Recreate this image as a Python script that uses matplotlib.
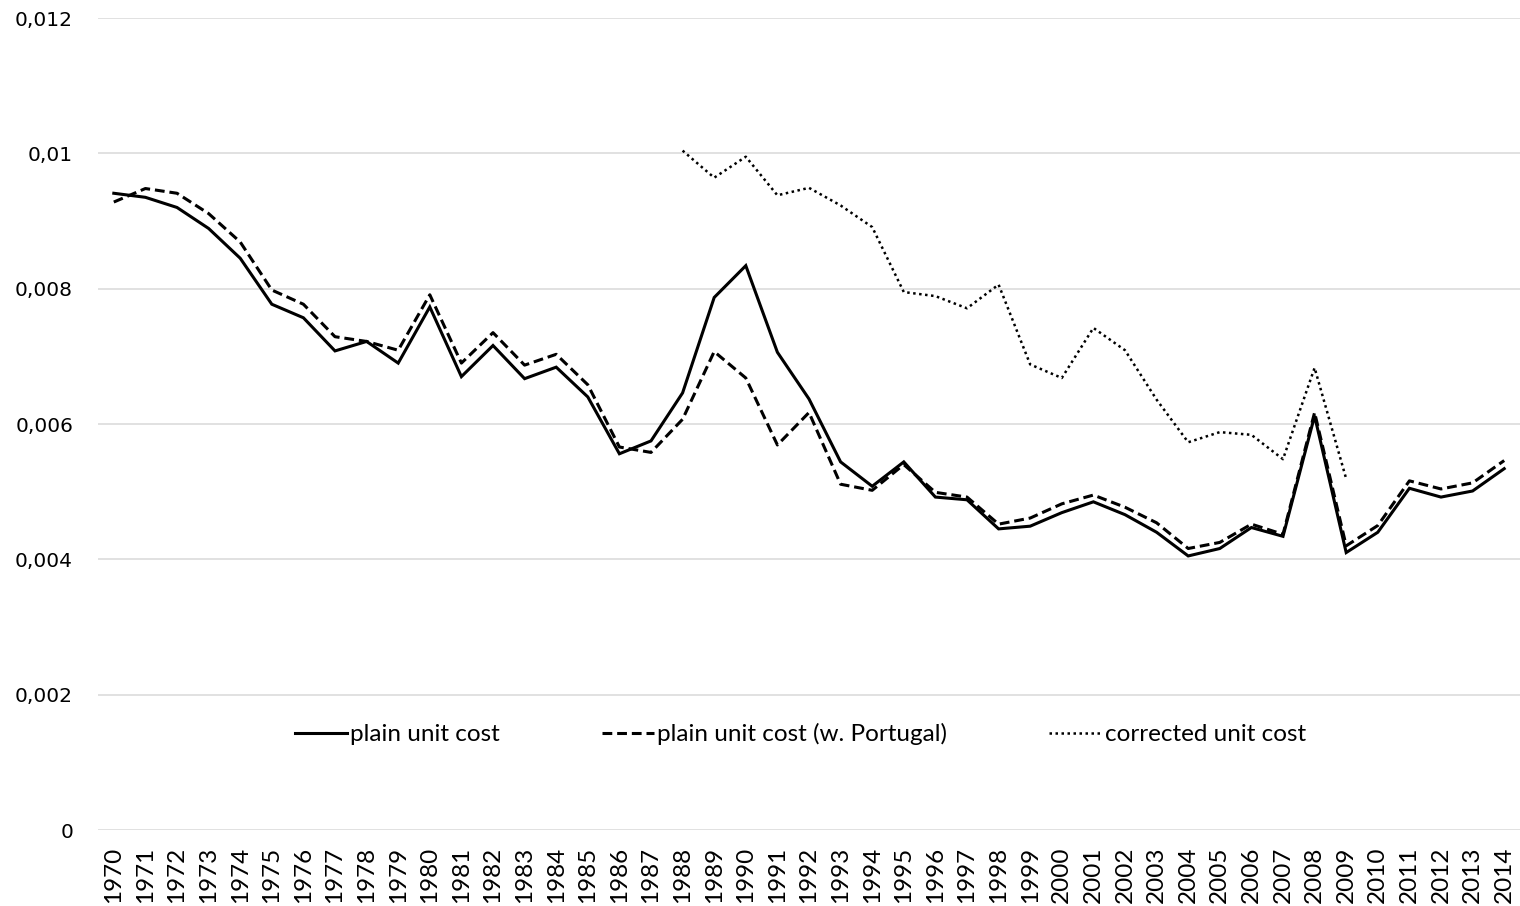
import matplotlib
matplotlib.use("Agg")
import matplotlib.pyplot as plt
from matplotlib.ticker import FuncFormatter

# years on the category axis
years = list(range(1970, 2015))

# plain unit cost (solid)
plain = [0.00941, 0.00935, 0.00920, 0.00889, 0.00845, 0.00777, 0.00757, 0.00708, 0.00722, 0.00690,
         0.00773, 0.00670, 0.00716, 0.00667, 0.00684, 0.00640, 0.00556, 0.00575, 0.00646, 0.00787,
         0.00834, 0.00706, 0.00637, 0.00544, 0.00508, 0.00544, 0.00492, 0.00488, 0.00445, 0.00449,
         0.00469, 0.00485, 0.00466, 0.00440, 0.00405, 0.00416, 0.00447, 0.00434, 0.00612, 0.00410,
         0.00440, 0.00505, 0.00492, 0.00501, 0.00534]

# plain unit cost incl. Portugal (dashed)
plain_pt = [0.00928, 0.00948, 0.00941, 0.00911, 0.00869, 0.00798, 0.00777, 0.00729, 0.00722, 0.00709,
            0.00791, 0.00690, 0.00735, 0.00687, 0.00703, 0.00658, 0.00566, 0.00558, 0.00607, 0.00707,
            0.00668, 0.00569, 0.00617, 0.00511, 0.00502, 0.00540, 0.00499, 0.00492, 0.00452, 0.00461,
            0.00482, 0.00495, 0.00477, 0.00454, 0.00416, 0.00425, 0.00452, 0.00437, 0.00617, 0.00420,
            0.00450, 0.00516, 0.00504, 0.00513, 0.00546]

# corrected unit cost (dotted), only 1988-2009
corr_years = list(range(1988, 2010))
corrected = [0.01004, 0.00964, 0.00995, 0.00938, 0.00949, 0.00923, 0.00891, 0.00795, 0.00789, 0.00771,
             0.00806, 0.00688, 0.00668, 0.00742, 0.00709, 0.00636, 0.00573, 0.00588, 0.00584, 0.00548,
             0.00683, 0.00519]

y_ticks = [0, 0.002, 0.004, 0.006, 0.008, 0.010, 0.012]

fig = plt.figure(figsize=(15.2, 9.06), dpi=100)
ax = fig.add_axes([98 / 1520, 1 - 830 / 906, 1 - 98 / 1520, (830 - 18) / 906])

x = list(range(len(years)))
x_corr = [years.index(yr) for yr in corr_years]

ax.plot(x, plain, color="black", lw=2.2, solid_joinstyle="miter", label="plain unit cost")
ax.plot(x, plain_pt, color="black", lw=2.2, dashes=(3.2, 1.6), label="plain unit cost (w. Portugal)")
ax.plot(x_corr, corrected, color="black", lw=1.8, dashes=(1, 1.4), label="corrected unit cost")

ax.set_xlim(-0.5, len(years) - 0.5)
ax.set_ylim(0, 0.012)
ax.set_yticks(y_ticks)
ax.yaxis.set_major_formatter(FuncFormatter(lambda v, p: f"{v:g}".replace(".", ",")))
ax.set_xticks(x)
ax.set_xticklabels([str(yr) for yr in years], rotation=90, fontsize=17.5, family="Lato")

ax.grid(axis="y", color="#d9d9d9", lw=1.1)
ax.set_axisbelow(True)
for s in ax.spines.values():
    s.set_visible(False)
ax.tick_params(axis="y", length=0, pad=18, labelsize=14.5)
ax.tick_params(axis="x", length=0, pad=12)

ax.legend(loc="center", bbox_to_anchor=(0.494, 0.118), ncol=3, frameon=False,
          prop={"family": "Lato", "size": 17.5}, handlelength=2.15, handletextpad=0.12,
          columnspacing=4.2)

fig.savefig("out.png", dpi=100)
